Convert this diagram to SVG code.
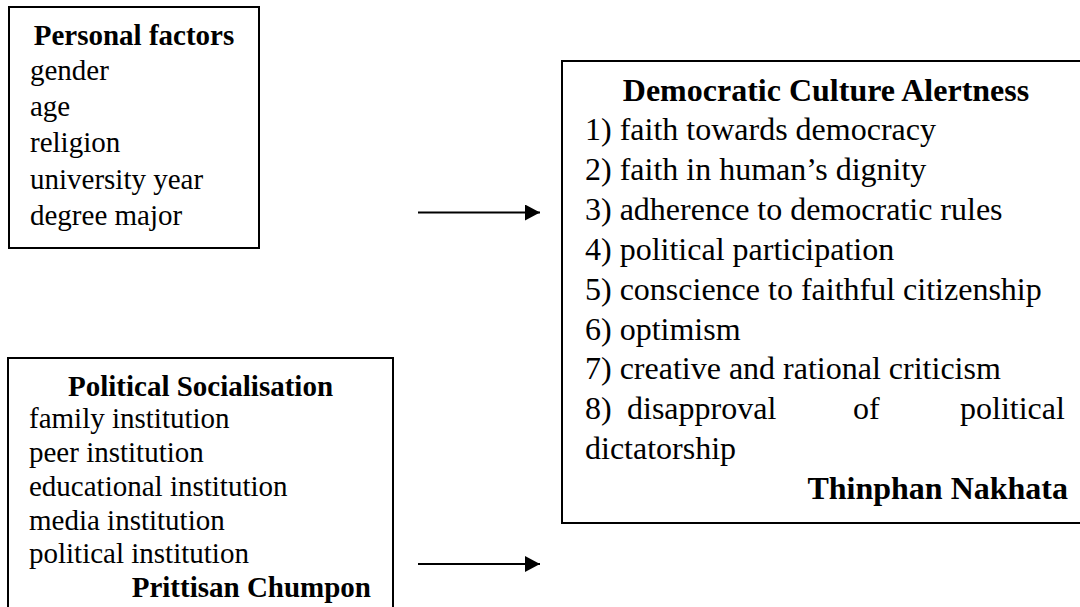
<svg xmlns="http://www.w3.org/2000/svg" width="1080" height="607" viewBox="0 0 1080 607">
<style>
.box{fill:#fff;stroke:#000;stroke-width:2}
.t{font-family:"Liberation Serif","Times New Roman",serif;fill:#000}
.s{font-size:29px}
.l{font-size:32px}
.b{font-weight:bold}
.c{stroke:#000;stroke-width:2;fill:none}
</style>
<defs>
<marker id="ah" markerUnits="userSpaceOnUse" markerWidth="16" markerHeight="16" refX="15" refY="8" orient="auto">
<path d="M0,0 L15,8 L0,16 Z" fill="#000"/>
</marker>
</defs>
<rect width="1080" height="607" fill="#fff"/>
<g id="personal-factors">
<rect class="box" x="9" y="7" width="250" height="241"/>
<text class="t s b" x="134" y="45" text-anchor="middle">Personal factors</text>
<text class="t s" x="30" y="80">gender</text>
<text class="t s" x="30" y="116">age</text>
<text class="t s" x="30" y="152">religion</text>
<text class="t s" x="30" y="189">university year</text>
<text class="t s" x="30" y="225">degree major</text>
</g>
<g id="political-socialisation">
<rect class="box" x="8" y="358" width="385" height="260"/>
<text class="t s b" x="200.5" y="395.5" text-anchor="middle">Political Socialisation</text>
<text class="t s" x="29" y="428">family institution</text>
<text class="t s" x="29" y="462">peer institution</text>
<text class="t s" x="29" y="496">educational institution</text>
<text class="t s" x="29" y="530">media institution</text>
<text class="t s" x="29" y="563">political institution</text>
<text class="t s b" x="371" y="597" text-anchor="end">Prittisan Chumpon</text>
</g>
<g id="democratic-culture-alertness">
<rect class="box" x="562" y="61" width="530" height="462"/>
<text class="t l b" x="826" y="101" text-anchor="middle">Democratic Culture Alertness</text>
<text class="t l" x="585" y="140">1) faith towards democracy</text>
<text class="t l" x="585" y="180">2) faith in human’s dignity</text>
<text class="t l" x="585" y="220">3) adherence to democratic rules</text>
<text class="t l" x="585" y="260">4) political participation</text>
<text class="t l" x="585" y="300">5) conscience to faithful citizenship</text>
<text class="t l" x="585" y="340">6) optimism</text>
<text class="t l" x="585" y="379">7) creative and rational criticism</text>
<text class="t l" y="419"><tspan x="585">8)</tspan> <tspan x="627">disapproval</tspan> <tspan x="853">of</tspan> <tspan x="960">political</tspan></text>
<text class="t l" x="585" y="459">dictatorship</text>
<text class="t l b" x="1068" y="499" text-anchor="end">Thinphan Nakhata</text>
</g>
<g id="connectors">
<line class="c" x1="418" y1="212.5" x2="540" y2="212.5" marker-end="url(#ah)"/>
<line class="c" x1="418" y1="564" x2="540" y2="564" marker-end="url(#ah)"/>
</g>
</svg>
